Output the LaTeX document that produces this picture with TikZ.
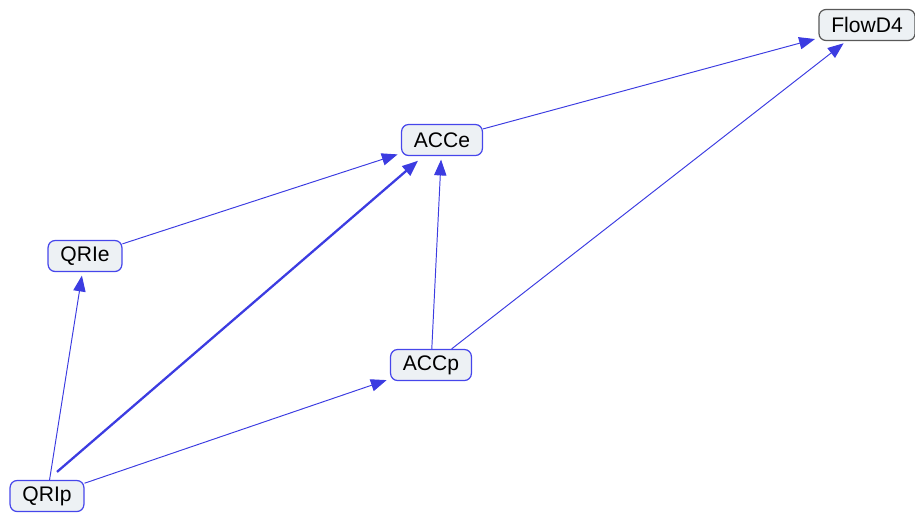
\documentclass[tikz,border=0pt]{standalone}
\usepackage{fontspec}
\setmainfont{Liberation Sans}
\usetikzlibrary{arrows.meta,calc}

\definecolor{boxfill}{RGB}{237,241,244}
\definecolor{boxline}{RGB}{70,70,235}
\definecolor{linkblue}{RGB}{60,60,225}

\begin{document}
\begin{tikzpicture}[
    x=0.02cm, y=-0.02cm,
    var/.style={rectangle,rounded corners=4pt,draw=boxline,fill=boxfill,line width=0.7pt,
        font=\fontsize{12}{14}\selectfont,inner xsep=7pt,minimum height=0.62cm},
    sink/.style={var,draw=black!65},
    link/.style={draw=linkblue,line width=0.55pt,-{Triangle[length=9pt,width=7pt]},shorten >=2pt},
    strong/.style={link,line width=1.3pt,shorten >=4pt}
]
    \useasboundingbox (0,0) rectangle (915,514);

    % Nodes
    \node[sink] (flow) at (867,25) {FlowD4};
    \node[var] (acce) at (442,140) {ACCe};
    \node[var] (qrie) at (85,256) {QRIe};
    \node[var] (accp) at (431,365) {ACCp};
    \node[var] (qrip) at (47,496) {QRIp};

    % Edges
    \draw[link] (acce) -- (flow);
    \draw[link] (accp) -- (flow);
    \draw[link] (qrie) -- (acce);
    \draw[link] (accp) -- (acce);
    \draw[strong] ([shift={(10,-8)}]qrip.north) -- (acce);
    \draw[link] (qrip) -- (qrie);
    \draw[link] (qrip) -- (accp);
\end{tikzpicture}
\end{document}
